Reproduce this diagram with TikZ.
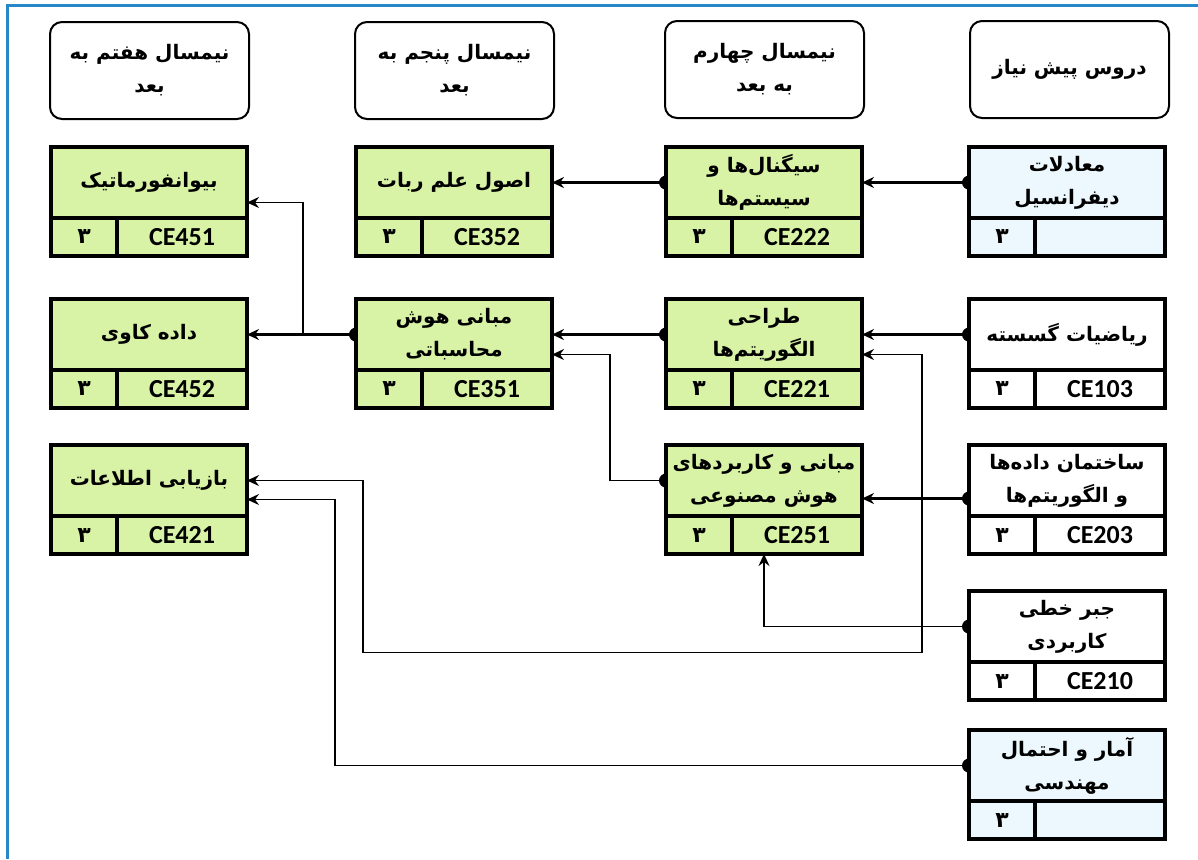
\documentclass[tikz,border=0pt]{standalone}
\usepackage{fontspec}
\setmainfont{Carlito}
\newfontfamily\fa[Script=Arabic]{DejaVu Sans}
\TeXXeTstate=1
\usetikzlibrary{arrows.meta,backgrounds}

\definecolor{grn}{RGB}{216,242,166}
\definecolor{sky}{RGB}{236,248,253}
\definecolor{frameblue}{RGB}{40,135,200}

\newcommand{\rl}[1]{\beginR#1\endR}
% one course: name, left, top, fill, title, code
\newcommand{\course}[6]{%
  \node[ttl, fill=#4] (#1) at (#2,#3) {#5};
  \node[unit, fill=#4] (#1u) at (#1.south west) {\rl{۳}};
  \node[code, fill=#4] (#1c) at (#1u.north east) {#6};
}

\tikzset{
  hdr/.style={draw, line width=1pt, rounded corners=6pt, minimum width=99.5pt, minimum height=48.5pt,
    anchor=north west, align=center, inner sep=0pt, font=\fa\bfseries\fontsize{10}{16.5}\selectfont},
  ttl/.style={draw, line width=2pt, outer sep=0pt, inner sep=0pt, minimum width=98pt, minimum height=35.5pt,
    anchor=north west, align=center, font=\fa\bfseries\fontsize{10}{16.5}\selectfont},
  unit/.style={draw, line width=2pt, outer sep=0pt, inner sep=0pt, minimum width=33pt, minimum height=19pt,
    anchor=north west, font=\fa\bfseries\fontsize{11}{12}\selectfont},
  code/.style={draw, line width=2pt, outer sep=0pt, inner sep=0pt, minimum width=65pt, minimum height=19pt,
    anchor=north west, font=\bfseries\fontsize{13}{14}\selectfont},
  link/.style={line width=1.3pt, -{Stealth[length=6pt,width=5.5pt,inset=2pt]}},
  route/.style={link, line width=0.8pt},
}

\begin{document}
\begin{tikzpicture}[x=0.5pt, y=-0.5pt]
  \useasboundingbox (0,0) rectangle (1198,859);

  % headers
  \node[hdr] (h7) at (49,21) {\rl{نیمسال هفتم به}\\\rl{بعد}};
  \node[hdr] (h5) at (354,21) {\rl{نیمسال پنجم به}\\\rl{بعد}};
  \node[hdr] (h4) at (664,20) {\rl{نیمسال چهارم}\\\rl{به بعد}};
  \node[hdr] (h0) at (969,20) {\rl{دروس پیش نیاز}};

  % courses
  \course{ce451}{51}{147}{grn}{\rl{بیوانفورماتیک}}{CE451}
  \course{ce352}{356}{147}{grn}{\rl{اصول علم ربات}}{CE352}
  \course{ce222}{666}{147}{grn}{\rl{سیگنال‌ها و}\\\rl{سیستم‌ها}}{CE222}
  \course{difeq}{969}{147}{sky}{\rl{معادلات}\\\rl{دیفرانسیل}}{}
  \course{ce452}{51}{299}{grn}{\rl{داده کاوی}}{CE452}
  \course{ce351}{356}{299}{grn}{\rl{مبانی هوش}\\\rl{محاسباتی}}{CE351}
  \course{ce221}{666}{299}{grn}{\rl{طراحی}\\\rl{الگوریتم‌ها}}{CE221}
  \course{ce103}{969}{299}{white}{\rl{ریاضیات گسسته}}{CE103}
  \course{ce421}{51}{445}{grn}{\rl{بازیابی اطلاعات}}{CE421}
  \course{ce251}{666}{445}{grn}{\rl{مبانی و کاربردهای}\\\rl{هوش مصنوعی}}{CE251}
  \course{ce203}{969}{445}{white}{\rl{ساختمان داده‌ها}\\\rl{و الگوریتم‌ها}}{CE203}
  \course{ce210}{969}{591}{white}{\rl{جبر خطی}\\\rl{کاربردی}}{CE210}
  \course{stat}{969}{730}{sky}{\rl{آمار و احتمال}\\\rl{مهندسی}}{}

  \begin{pgfonlayer}{background}
    % frame
    \draw[frameblue, line width=1.5pt] (7,859) -- (7,5) -- (1198,5);

    % prerequisite links
    \draw[link] (difeq.west) -- (ce222.east);
    \draw[link] (ce222.west) -- (ce352.east);
    \draw[link] (ce103.west) -- (ce221.east);
    \draw[link] (ce221.west) -- (ce351.east);
    \draw[link] (ce351.west) -- (ce452.east);
    \draw[route] (ce351.west) -- ++(-26.5pt,0) |- ([yshift=-10pt]ce451.east);
    \draw[route] (ce251.west) -- ++(-28pt,0) |- ([yshift=-10pt]ce351.east);
    \draw[link] ([yshift=-9pt]ce203.west) -- ([yshift=-9pt]ce251.east);
    \draw[route] ([yshift=-9pt]ce203.west) -- ++(-23.5pt,0) |- ([yshift=-10pt]ce221.east);
    \draw[route] ([yshift=-9pt]ce203.west) -- ++(-23.5pt,0) -- ++(0,-77pt)
      -| ([xshift=58pt]ce421.east) -- (ce421.east);
    \draw[route] (ce210.west) -| (ce251.center |- ce251c.south);
    \draw[route] (stat.west) -| ([xshift=44pt,yshift=-9.5pt]ce421.east) -- ([yshift=-9.5pt]ce421.east);

    % start dots
    \foreach \n in {difeq, ce222, ce103, ce221, ce351, ce251, ce210, stat}
      \fill (\n.west) circle (3.5pt);
    \fill ([yshift=-9pt]ce203.west) circle (3.5pt);
  \end{pgfonlayer}
\end{tikzpicture}
\end{document}
